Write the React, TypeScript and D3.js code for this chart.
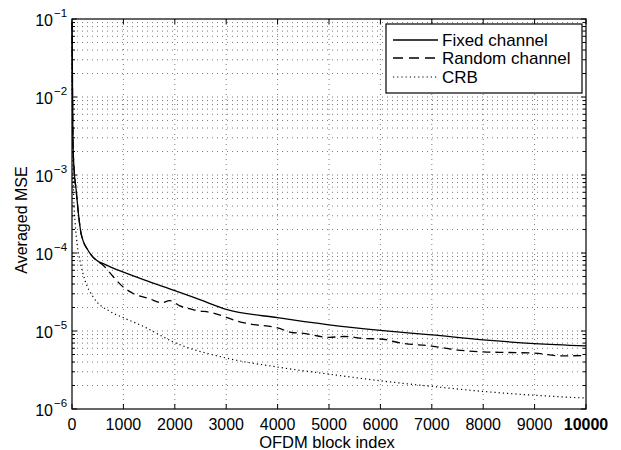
import React from "react";
import * as d3 from "d3";

const xTicks = [0, 1000, 2000, 3000, 4000, 5000, 6000, 7000, 8000, 9000, 10000];
const yExponents = [-1, -2, -3, -4, -5, -6];

const fixedX = [0, 5, 10, 20, 40, 80, 110, 175, 305, 400, 525, 650, 800, 1000, 1500, 2000, 2500, 3000, 4000, 5000, 6000, 7000, 8000, 9000, 10000];
const fixedY = [0.09, 0.04, 0.012, 2.5e-3, 1.2e-3, 6.5e-4, 4e-4, 1.8e-4, 1.1e-4, 9e-5, 7.7e-5, 7.1e-5, 6.4e-5, 5.7e-5, 4.3e-5, 3.3e-5, 2.5e-5, 1.9e-5, 1.48e-5, 1.2e-5, 1.02e-5, 8.9e-6, 7.7e-6, 6.9e-6, 6.45e-6];

const randomX = [0, 5, 10, 20, 40, 80, 110, 175, 305, 400, 525, 600, 800, 950, 1200, 1500, 1750, 1900, 2100, 2400, 2750, 3000, 3200, 3500, 4000, 4300, 4450, 5000, 5300, 5700, 6000, 6400, 7000, 7500, 8000, 8500, 9000, 9500, 10000];
const randomY = [0.09, 0.04, 0.012, 2.5e-3, 1.2e-3, 6.5e-4, 4e-4, 1.8e-4, 1.1e-4, 9e-5, 7.6e-5, 7.0e-5, 5e-5, 3.9e-5, 3.0e-5, 2.6e-5, 2.3e-5, 2.45e-5, 2.1e-5, 1.85e-5, 1.7e-5, 1.5e-5, 1.35e-5, 1.22e-5, 1.1e-5, 9.5e-6, 9.4e-6, 8.3e-6, 8.5e-6, 8.0e-6, 7.9e-6, 7.0e-6, 6.4e-6, 5.7e-6, 5.4e-6, 5.3e-6, 5.2e-6, 4.8e-6, 4.85e-6];

const crbX = [0, 5, 10, 30, 60, 100, 155, 250, 410, 740, 1000, 1380, 2000, 3000, 4000, 5000, 6000, 7000, 8000, 9000, 10000];
const crbY = [0.05, 0.01, 3e-3, 6e-4, 2.5e-4, 1.3e-4, 8e-5, 4.5e-5, 2.75e-5, 1.78e-5, 1.48e-5, 1.15e-5, 7.1e-6, 4.5e-6, 3.45e-6, 2.8e-6, 2.3e-6, 1.95e-6, 1.68e-6, 1.5e-6, 1.38e-6];

const legendLabels = ["Fixed channel", "Random channel", "CRB"];

const W = 621, H = 450;
const L = 72, R = 586, T = 19, B = 409;
const FONT = "'Liberation Sans', Arial, Helvetica, sans-serif";

export default function App() {
  const x = d3.scaleLinear().domain([0, 10000]).range([L, R]);
  const y = d3.scaleLog().domain([1e-6, 1e-1]).range([B, T]);

  const line = d3
    .line<[number, number]>()
    .x((d) => x(d[0]))
    .y((d) => y(d[1]))
    .curve(d3.curveMonotoneX);

  const fixedPts = fixedX.map((v, i) => [v, fixedY[i]] as [number, number]);
  const randomPts = randomX.map((v, i) => [v, randomY[i]] as [number, number]);
  const crbPts = crbX.map((v, i) => [v, crbY[i]] as [number, number]);

  const minorY: number[] = [];
  const majorY: number[] = [];
  for (let e = -6; e <= -1; e++) {
    majorY.push(Math.pow(10, e));
    if (e < -1) for (let k = 2; k <= 9; k++) minorY.push(k * Math.pow(10, e));
  }

  const grid = { stroke: "#000", strokeWidth: 0.7, strokeDasharray: "1,4", strokeOpacity: 0.75 };
  const styles = [
    { dash: undefined as string | undefined, width: 1.3 },
    { dash: "8,5", width: 1.3 },
    { dash: "1.2,3", width: 1.2 },
  ];
  const legX = 386, legY = 24, legW = 196, legH = 69;
  const legRows = [40, 58, 77];

  return (
    <svg width={W} height={H} style={{ display: "block", position: "absolute", left: 0, top: 0 }} fontFamily={FONT}>
      <rect x={0} y={0} width={W} height={H} fill="#fff" />
      {/* grid */}
      {xTicks.slice(1, -1).map((t) => (
        <line key={"gx" + t} x1={x(t)} x2={x(t)} y1={T} y2={B} {...grid} />
      ))}
      {[...minorY, ...majorY.slice(1, -1)].map((v, i) => (
        <line key={"gy" + i} x1={L} x2={R} y1={y(v)} y2={y(v)} {...grid} />
      ))}
      {/* ticks */}
      {xTicks.map((t) => (
        <g key={"tx" + t}>
          <line x1={x(t)} x2={x(t)} y1={B} y2={B - 5} stroke="#000" />
          <line x1={x(t)} x2={x(t)} y1={T} y2={T + 5} stroke="#000" />
        </g>
      ))}
      {majorY.map((v, i) => (
        <g key={"ty" + i}>
          <line x1={L} x2={L + 5} y1={y(v)} y2={y(v)} stroke="#000" />
          <line x1={R} x2={R - 5} y1={y(v)} y2={y(v)} stroke="#000" />
        </g>
      ))}
      {minorY.map((v, i) => (
        <g key={"tmy" + i}>
          <line x1={L} x2={L + 3} y1={y(v)} y2={y(v)} stroke="#000" />
          <line x1={R} x2={R - 3} y1={y(v)} y2={y(v)} stroke="#000" />
        </g>
      ))}
      {/* curves */}
      <path d={line(fixedPts) || ""} fill="none" stroke="#000" strokeWidth={styles[0].width} />
      <path d={line(randomPts) || ""} fill="none" stroke="#000" strokeWidth={styles[1].width} strokeDasharray={styles[1].dash} />
      <path d={line(crbPts) || ""} fill="none" stroke="#000" strokeWidth={styles[2].width} strokeDasharray={styles[2].dash} />
      {/* frame */}
      <rect x={L} y={T} width={R - L} height={B - T} fill="none" stroke="#000" strokeWidth={1.2} />
      {/* x tick labels */}
      {xTicks.map((t) => (
        <text key={"lx" + t} x={x(t)} y={430} textAnchor="middle" fontSize={16} fontWeight={t === 10000 ? "bold" : "normal"}>
          {t}
        </text>
      ))}
      {/* y tick labels */}
      {yExponents.map((e) => (
        <g key={"ly" + e}>
          <text x={53} y={y(Math.pow(10, e)) + 7} textAnchor="end" fontSize={16}>10</text>
          <text x={54} y={y(Math.pow(10, e)) - 2} textAnchor="start" fontSize={11.5}>{"\u2212" + Math.abs(e)}</text>
        </g>
      ))}
      {/* axis labels */}
      <text x={(L + R) / 2 - 2} y={448} textAnchor="middle" fontSize={16.5}>OFDM block index</text>
      <text transform={`translate(27,220) rotate(-90)`} textAnchor="middle" fontSize={16}>Averaged MSE</text>
      {/* legend */}
      <rect x={legX} y={legY} width={legW} height={legH} fill="#fff" stroke="#000" strokeWidth={1.2} />
      {legendLabels.map((lab, i) => (
        <g key={lab}>
          <line x1={393} x2={438} y1={legRows[i]} y2={legRows[i]} stroke="#000" strokeWidth={styles[i].width} strokeDasharray={i === 1 ? "10,6" : styles[i].dash} />
          <text x={442} y={legRows[i] + 6} fontSize={17}>{lab}</text>
        </g>
      ))}
    </svg>
  );
}
